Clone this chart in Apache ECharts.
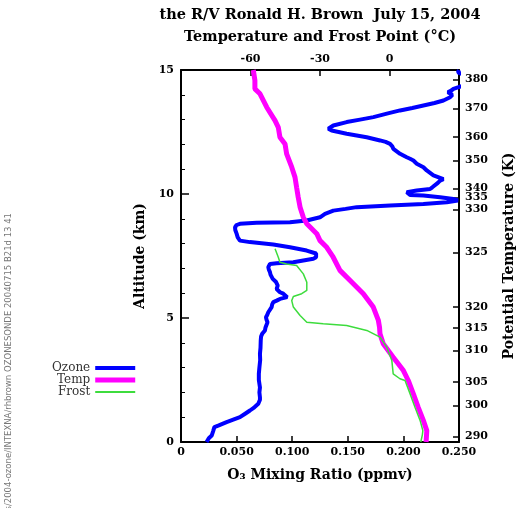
<!DOCTYPE html>
<html>
<head>
<meta charset="utf-8">
<script src="https://cdn.jsdelivr.net/npm/echarts@6/dist/echarts.min.js"></script>
<style>
  html, body { margin: 0; padding: 0; background: #fff; }
  #chart { width: 524px; height: 508px; }
</style>
</head>
<body>
<div id="chart"></div>
<script>
// Ozonesonde profile, R/V Ronald H. Brown, 15 July 2004
const ozoneAlt = [0.00,0.15,0.26,0.45,0.60,0.67,0.80,0.90,1.00,1.15,1.27,1.40,1.54,1.70,1.80,2.00,2.20,2.50,2.75,3.00,3.30,3.56,3.80,4.09,4.25,4.36,4.50,4.62,4.70,4.83,4.92,5.03,5.12,5.23,5.44,5.55,5.64,5.70,5.77,5.84,5.92,5.98,6.04,6.10,6.17,6.24,6.31,6.38,6.45,6.50,6.58,6.65,6.75,6.85,6.95,7.05,7.12,7.18,7.21,7.25,7.32,7.39,7.45,7.52,7.60,7.65,7.72,7.85,7.96,8.06,8.12,8.25,8.40,8.55,8.66,8.75,8.80,8.84,8.86,8.93,9.06,9.20,9.33,9.40,9.47,9.54,9.60,9.67,9.74,9.80,9.87,9.94,9.96,10.07,10.14,10.20,10.27,10.34,10.45,10.54,10.60,10.68,10.75,10.85,10.95,11.08,11.15,11.22,11.35,11.42,11.48,11.55,11.62,11.72,11.82,11.92,12.02,12.10,12.16,12.29,12.43,12.56,12.63,12.70,12.76,12.90,13.00,13.10,13.25,13.37,13.47,13.57,13.67,13.77,13.90,14.00,14.10,14.17,14.24,14.30,14.40,14.60,14.80,14.90,15.00];
const ozonePpmv = [0.023,0.025,0.0276,0.029,0.030,0.034,0.041,0.047,0.053,0.058,0.062,0.066,0.0695,0.071,0.071,0.0705,0.071,0.0700,0.070,0.0705,0.0712,0.071,0.0715,0.0717,0.072,0.073,0.0755,0.076,0.0764,0.0778,0.0770,0.0764,0.0775,0.0785,0.0815,0.0820,0.083,0.086,0.089,0.0955,0.094,0.092,0.089,0.0875,0.086,0.0855,0.0870,0.0866,0.0855,0.0845,0.0825,0.0815,0.0805,0.080,0.0790,0.0785,0.0790,0.080,0.086,0.101,0.110,0.119,0.1215,0.122,0.1215,0.1205,0.113,0.098,0.083,0.062,0.053,0.051,0.050,0.0488,0.0486,0.050,0.053,0.068,0.098,0.113,0.125,0.1295,0.137,0.148,0.158,0.188,0.218,0.239,0.249,0.245,0.233,0.218,0.206,0.203,0.212,0.224,0.226,0.227,0.231,0.233,0.236,0.2345,0.227,0.224,0.221,0.218,0.215,0.212,0.209,0.206,0.203,0.200,0.197,0.194,0.191,0.190,0.188,0.184,0.179,0.167,0.149,0.1355,0.1325,0.134,0.137,0.149,0.161,0.173,0.186,0.197,0.208,0.218,0.228,0.236,0.242,0.244,0.240,0.243,0.245,0.249,0.256,0.262,0.255,0.249,0.250];

const tempAlt = [0.00,0.46,0.87,1.40,1.94,2.48,2.88,3.42,3.96,4.36,4.62,4.90,5.44,5.98,6.38,6.92,7.45,7.85,8.12,8.40,8.80,9.06,9.47,9.87,10.27,10.68,11.08,11.62,12.02,12.29,12.69,12.96,13.50,14.04,14.24,14.58,15.00];
const tempC = [15.8,16.1,14.6,12.4,10.3,8.1,6.0,1.6,-2.7,-4.1,-4.3,-4.8,-7.0,-11.3,-15.6,-21.4,-24.3,-27.1,-30.0,-31.4,-35.7,-37.2,-38.6,-39.4,-40.1,-40.8,-42.2,-44.4,-45.1,-47.3,-48.0,-49.4,-53.0,-55.9,-58.1,-58.1,-58.8];

const frostAlt = [0.00,0.30,0.46,0.87,1.40,1.94,2.48,2.55,2.75,3.29,3.82,4.23,4.50,4.70,4.77,4.83,5.10,5.44,5.70,5.87,5.98,6.11,6.44,6.78,7.12,7.18,7.25,7.45,7.79];
const frostC = [13.5,14.2,14.4,13.2,11.0,8.9,6.7,4.5,1.6,1.0,-1.2,-4.1,-9.8,-18.5,-28.6,-35.7,-38.6,-41.5,-42.2,-41.5,-37.9,-35.7,-35.7,-37.2,-40.1,-44.4,-47.3,-48.0,-49.4];

// Potential temperature labels and the altitudes (km) where they occur
const thetaLabels = ['290','300','305','310','315','320','325','330','335','340','350','360','370','380'];
const thetaAlt = [0.22,1.47,2.42,3.69,4.60,5.44,7.64,9.375,9.86,10.22,11.35,12.29,13.45,14.62];

const tempTicks = [-60, -30, 0];

const serif = 'DejaVu Serif';
const boldLabel = { fontFamily: serif, fontWeight: 'bold', fontSize: 11, color: '#000' };
const nameStyle = { fontFamily: serif, fontWeight: 'bold', fontSize: 14, color: '#000' };
const axisLine = { show: true, onZero: false, lineStyle: { color: '#000', width: 2 } };

const chart = echarts.init(document.getElementById('chart'), null, { renderer: 'canvas' });

chart.setOption({
  animation: false,
  backgroundColor: '#fff',
  graphic: [
    {
      type: 'text', x: 320, y: 15,
      style: { text: 'the R/V Ronald H. Brown  July 15, 2004', fontFamily: serif, fontWeight: 'bold',
               fontSize: 14.5, fill: '#000', align: 'center', verticalAlign: 'middle' }
    },
    {
      type: 'text', x: 9, y: 213, rotation: Math.PI / 2,
      style: { text: 's/2004-ozone/INTEXNA/rhbrown OZONESONDE 20040715 B21d 13 41', fontFamily: 'DejaVu Sans',
               fontSize: 8.5, fill: '#777', align: 'right', verticalAlign: 'middle' }
    }
  ],
  legend: {
    orient: 'vertical', left: 47, top: 357, align: 'right',
    itemWidth: 40, itemHeight: 5, itemGap: 0,
    itemStyle: { opacity: 0 },
    textStyle: { fontFamily: serif, fontSize: 12, color: '#333' },
    data: [
      { name: 'Ozone', lineStyle: { width: 4 } },
      { name: 'Temp', lineStyle: { width: 5 } },
      { name: 'Frost', lineStyle: { width: 2 } }
    ]
  },
  grid: { left: 181, right: 65, top: 70, bottom: 66, containLabel: false },
  xAxis: [
    {
      type: 'value', position: 'bottom', min: 0, max: 0.25, interval: 0.05,
      axisLine: axisLine,
      axisTick: { inside: true, length: 6, lineStyle: { color: '#000', width: 1.5 } },
      axisLabel: Object.assign({ margin: 5, formatter: v => (v === 0 ? '0' : v.toFixed(3)) }, boldLabel),
      splitLine: { show: false },
      name: 'O\u2083 Mixing Ratio (ppmv)', nameLocation: 'middle', nameGap: 26,
      nameTextStyle: nameStyle
    },
    {
      type: 'value', position: 'top', min: -90, max: 30, interval: 30,
      axisLine: axisLine,
      axisTick: { inside: true, length: 6, customValues: tempTicks, lineStyle: { color: '#000', width: 1.5 } },
      axisLabel: Object.assign({ margin: 5, customValues: tempTicks }, boldLabel),
      splitLine: { show: false },
      name: 'Temperature and Frost Point (\u00B0C)', nameLocation: 'middle', nameGap: 25,
      nameTextStyle: Object.assign({}, nameStyle, { fontSize: 14.5 })
    }
  ],
  yAxis: [
    {
      type: 'value', position: 'left', min: 0, max: 15, interval: 5,
      axisLine: axisLine,
      axisTick: { inside: true, length: 8, lineStyle: { color: '#000', width: 1.5 } },
      minorTick: { show: true, splitNumber: 5, length: 4, lineStyle: { color: '#000', width: 1 } },
      axisLabel: Object.assign({ margin: 7 }, boldLabel),
      splitLine: { show: false },
      name: 'Altitude (km)', nameLocation: 'middle', nameGap: 30, nameRotate: 90,
      nameTextStyle: nameStyle
    },
    {
      type: 'value', position: 'right', min: 0, max: 15,
      axisLine: axisLine,
      axisTick: { inside: true, length: 6, customValues: thetaAlt, lineStyle: { color: '#000', width: 1.5 } },
      axisLabel: Object.assign({
        margin: 6, customValues: thetaAlt, hideOverlap: false,
        formatter: v => thetaLabels[thetaAlt.indexOf(v)]
      }, boldLabel),
      splitLine: { show: false },
      name: 'Potential Temperature (K)', nameLocation: 'middle', nameGap: 43, nameRotate: 90,
      nameTextStyle: nameStyle
    }
  ],
  series: [
    {
      name: 'Ozone', type: 'line', xAxisIndex: 0, yAxisIndex: 0,
      data: ozoneAlt.map((a, i) => [ozonePpmv[i], a]),
      symbol: 'none', clip: true,
      lineStyle: { color: '#0000ff', width: 4 }, itemStyle: { color: '#0000ff' }
    },
    {
      name: 'Temp', type: 'line', xAxisIndex: 1, yAxisIndex: 0,
      data: tempAlt.map((a, i) => [tempC[i], a]),
      symbol: 'none', clip: true,
      lineStyle: { color: '#ff00ff', width: 5 }, itemStyle: { color: '#ff00ff' }
    },
    {
      name: 'Frost', type: 'line', xAxisIndex: 1, yAxisIndex: 0,
      data: frostAlt.map((a, i) => [frostC[i], a]),
      symbol: 'none', clip: true,
      lineStyle: { color: '#3ddc3d', width: 1.5 }, itemStyle: { color: '#3ddc3d' }
    }
  ]
});
</script>
</body>
</html>
